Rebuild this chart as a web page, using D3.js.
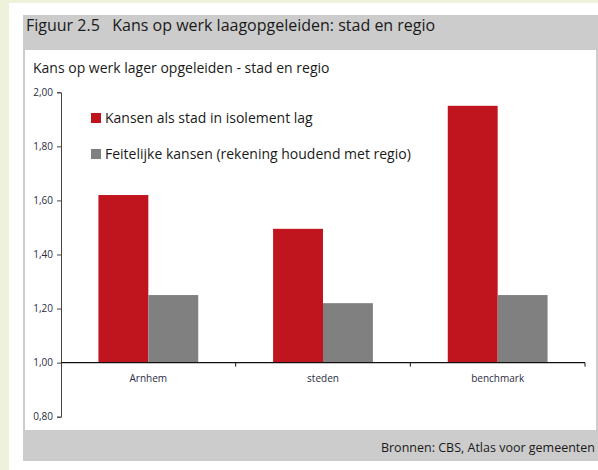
<!DOCTYPE html>
<html>
<head>
<meta charset="utf-8">
<script src="https://cdn.jsdelivr.net/npm/d3@7"></script>
<style>
  body { margin: 0; background: #fff; }
  svg { display: block; font-family: "Open Sans", "Noto Sans", sans-serif; }
</style>
</head>
<body>
<svg width="598" height="470"></svg>
<script>
var categories = ["Arnhem", "steden", "benchmark"]
var seriesNames = ["Kansen als stad in isolement lag", "Feitelijke kansen (rekening houdend met regio)"]
var isolated = [1.62, 1.495, 1.95]
var actual = [1.25, 1.22, 1.25]
var yTicks = [0.8, 1.0, 1.2, 1.4, 1.6, 1.8, 2.0]
var colors = ["#c0141f", "#808080"]

var svg = d3.select("svg")

// page frame
svg.append("rect").attr("x", 0).attr("y", 0).attr("width", 598).attr("height", 470).attr("fill", "#fff")
svg.append("rect").attr("x", 0).attr("y", 0).attr("width", 598).attr("height", 3).attr("fill", "#eff2da")
svg.append("rect").attr("x", 0).attr("y", 0).attr("width", 9).attr("height", 470).attr("fill", "#eff2da")
svg.append("rect").attr("x", 23).attr("y", 15).attr("width", 575).attr("height", 446).attr("fill", "#cccccc")
svg.append("rect").attr("x", 25).attr("y", 50).attr("width", 571).attr("height", 380).attr("fill", "#fff")

svg.append("text").attr("x", 26).attr("y", 31)
  .attr("font-size", 16).attr("fill", "#1a1a1a")
  .attr("xml:space", "preserve")
  .text("Figuur 2.5   Kans op werk laagopgeleiden: stad en regio")

svg.append("text").attr("x", 33).attr("y", 73)
  .attr("font-size", 14).attr("fill", "#1a1a1a")
  .text("Kans op werk lager opgeleiden - stad en regio")

svg.append("text").attr("x", 595).attr("y", 452)
  .attr("font-size", 12.5).attr("fill", "#1a1a1a")
  .attr("text-anchor", "end")
  .text("Bronnen: CBS, Atlas voor gemeenten")

var y = d3.scaleLinear().domain([0.8, 2.0]).range([416.7, 92.3])
var x0 = d3.scaleBand().domain(categories).range([61, 585])
var x1 = d3.scaleBand().domain([0, 1]).range([0, x0.bandwidth()]).paddingOuter(0.75)

// y axis
var yAxis = svg.append("g").attr("transform", "translate(61,0)")
  .call(d3.axisLeft(y).tickValues(yTicks).tickSize(4).tickPadding(4)
    .tickFormat(function(d){ return d3.format(".2f")(d).replace(".", ",") }))
yAxis.select(".domain").attr("stroke", "#444")
yAxis.selectAll(".tick line").attr("stroke", "#444")
yAxis.selectAll("text").attr("font-size", 10).attr("fill", "#2b2b45")
  .attr("font-family", "'Open Sans', sans-serif")

// bars
var rows = categories.map(function(c, i){ return {cat: c, vals: [isolated[i], actual[i]]} })
var groups = svg.append("g").selectAll("g")
  .data(rows).enter().append("g")
  .attr("transform", function(d){ return "translate(" + x0(d.cat) + ",0)" })

groups.selectAll("rect")
  .data(function(d){ return d.vals.map(function(v, j){ return {v: v, j: j} }) })
  .enter().append("rect")
  .attr("x", function(d){ return x1(d.j) })
  .attr("width", x1.bandwidth())
  .attr("y", function(d){ return y(d.v) })
  .attr("height", function(d){ return y(1.0) - y(d.v) })
  .attr("fill", function(d){ return colors[d.j] })

// x axis at 1,00
var xAxis = svg.append("g").attr("transform", "translate(0," + y(1.0) + ")")
xAxis.append("line").attr("x1", 61).attr("x2", 585).attr("stroke", "#111").attr("stroke-width", 1.2)
xAxis.selectAll(".tk").data(categories).enter().append("line")
  .attr("x1", function(d){ return x0(d) + x0.bandwidth() })
  .attr("x2", function(d){ return x0(d) + x0.bandwidth() })
  .attr("y1", 0).attr("y2", 4).attr("stroke", "#111")
xAxis.selectAll("text").data(categories).enter().append("text")
  .attr("x", function(d){ return x0(d) + x0.bandwidth() / 2 })
  .attr("y", 19).attr("text-anchor", "middle")
  .attr("font-size", 10).attr("fill", "#2b2b45")
  .text(function(d){ return d })

// legend
var legend = svg.append("g").selectAll("g")
  .data(seriesNames).enter().append("g")
  .attr("transform", function(d, i){ return "translate(91," + (113 + i * 36) + ")" })
legend.append("rect").attr("width", 10).attr("height", 10)
  .attr("fill", function(d, i){ return colors[i] })
legend.append("text").attr("x", 14).attr("y", 9.5)
  .attr("font-size", 14).attr("fill", "#1a1a1a")
  .text(function(d){ return d })
</script>
</body>
</html>
